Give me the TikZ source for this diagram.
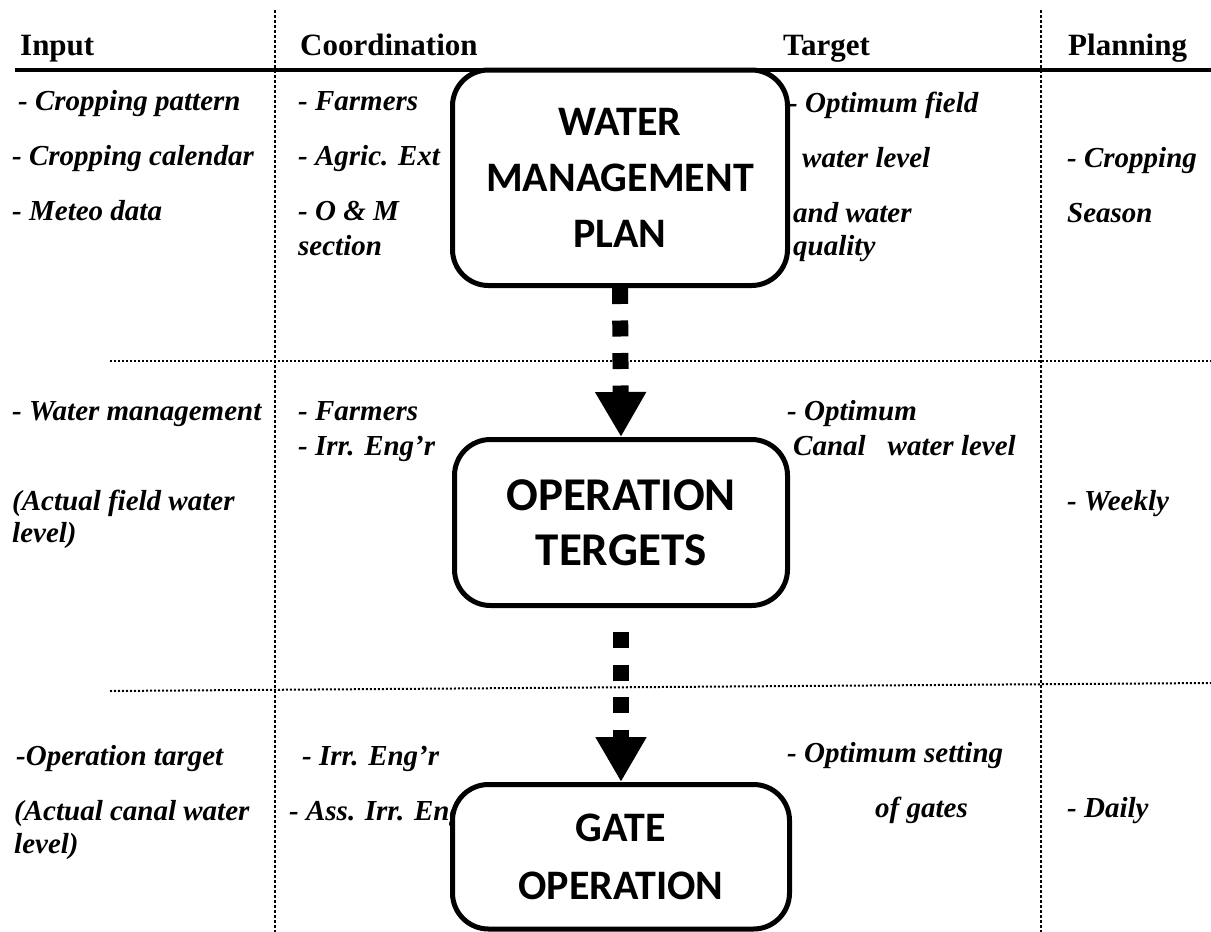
\documentclass[tikz,border=0pt]{standalone}
\usepackage{fontspec}
\setmainfont{Liberation Serif}
\newfontfamily\boxfont{Carlito}
\usetikzlibrary{arrows.meta}
\tikzset{
  hdr/.style={anchor=base west, inner sep=0pt, font=\fontsize{31}{31}\selectfont\bfseries},
  itm/.style={anchor=base west, inner sep=0pt, font=\fontsize{29}{35}\selectfont\bfseries\itshape},
  stage/.style={draw, line width=5pt, fill=white, rounded corners=36pt, align=center, inner sep=0pt},
  dotv/.style={line width=2.5pt, dash pattern=on 2.5pt off 2.5pt},
  doth/.style={line width=2pt, dash pattern=on 2pt off 2pt},
  flow/.style={line width=16pt, dash pattern=on 16pt off 16.5pt, -{Triangle[width=48pt,length=45pt]}},
}
\begin{document}
\begin{tikzpicture}[x=1pt,y=-1pt]
\useasboundingbox (0,0) rectangle (1211,932);
% grid lines
\draw[dotv] (275,10) -- (275,932);
\draw[dotv] (1041,10) -- (1041,932);
\draw[doth] (110,361) -- (1211,361);
\draw[doth] (110,691) -- (1211,683);
\draw[line width=4.5pt] (15,70) -- (1211,70);
% headers
\node[hdr] (hIn) at (20,55) {Input};
\node[hdr] (hCo) at (300,55) {Coordination};
\node[hdr] (hTa) at (783,55) {Target};
\node[hdr] (hPl) at (1068,55) {Planning};
% row 1
\node[itm] (a1) at (18,110) {- Cropping pattern};
\node[itm] (a2) at (12,165) {- Cropping calendar};
\node[itm] (a3) at (12,220) {- Meteo data};
\node[itm] (a4) at (298,110) {- Farmers};
\node[itm] (a5) at (298,165) {- Agric. Ext};
\node[itm] (a6) at (298,220) {- O \& M};
\node[itm] (a7) at (298,255) {section};
\node[itm] (a8) at (788,112) {- Optimum field};
\node[itm] (a9) at (802,167) {water level};
\node[itm] (a10) at (793,222) {and water};
\node[itm] (a11) at (793,255) {quality};
\node[itm] (a12) at (1067,167) {- Cropping};
\node[itm] (a13) at (1067,222) {Season};
% row 2
\node[itm] (b1t) at (12,420) {- Water management};
\node[itm] (b2t) at (12,510) {(Actual field water};
\node[itm] (b3t) at (12,542) {level)};
\node[itm] (b4t) at (298,420) {- Farmers};
\node[itm] (b5t) at (298,455) {- Irr. Eng’r};
\node[itm] (b6t) at (787,420) {- Optimum};
\node[itm] (b7t) at (793,455) {Canal\hspace{22pt}water level};
\node[itm] (b8t) at (1067,510) {- Weekly};
% row 3
\node[itm] (c1t) at (16,765) {-Operation target};
\node[itm] (c2t) at (14,820) {(Actual canal water};
\node[itm] (c3t) at (14,853) {level)};
\node[itm] (c4t) at (302,765) {- Irr. Eng’r};
\node[itm] (c5t) at (289,820) {- Ass. Irr. Eng’r};
\node[itm] (c6t) at (787,762) {- Optimum setting};
\node[itm] (c7t) at (875,817) {of gates};
\node[itm] (c8t) at (1067,817) {- Daily};
% stage boxes
\node[stage, minimum width=335pt, minimum height=215.5pt,
      font={\boxfont\bfseries\fontsize{42}{56}\selectfont}]
  (s1) at (620,177.75) {WATER\\MANAGEMENT\\PLAN};
\node[stage, minimum width=333pt, minimum height=166pt,
      font={\boxfont\bfseries\fontsize{47}{55}\selectfont}]
  (s2) at (621,522.5) {OPERATION\\TERGETS};
\node[stage, minimum width=337pt, minimum height=144.5pt,
      font={\boxfont\bfseries\fontsize{42}{58}\selectfont}]
  (s3) at (621,856.75) {GATE\\OPERATION};
% flows
\draw[flow] (s1.south) -- (s2.north);
\draw[flow, shorten <=24pt] (s2.south) -- (s3.north);
\end{tikzpicture}
\end{document}
